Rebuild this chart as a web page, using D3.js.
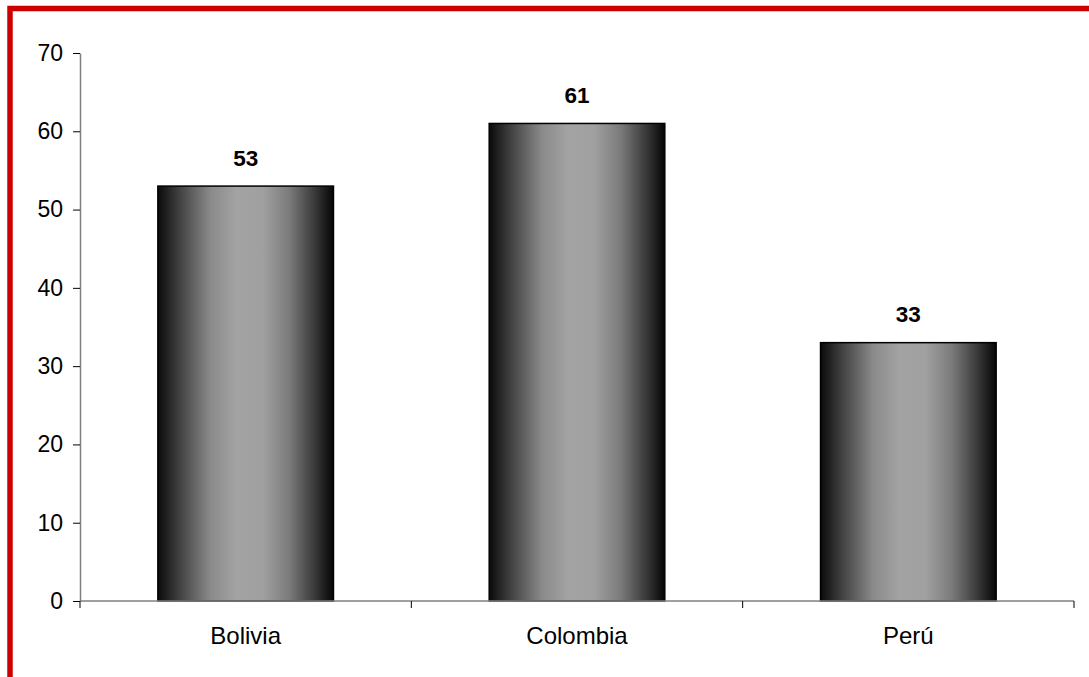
<!DOCTYPE html>
<html><head><meta charset="utf-8">
<script src="https://cdn.jsdelivr.net/npm/d3@7"></script>
<style>body{margin:0;background:#fff}svg{display:block}text{font-family:"Liberation Sans",Arial,sans-serif}</style>
</head><body><svg id="c" width="1089" height="677"></svg>
<script>
const categories = ["Bolivia","Colombia","Perú"];
const values = [53,61,33];
const yTicks = [0,10,20,30,40,50,60,70];

const svg = d3.select("#c");
const W=1089,H=677;
const m={l:80,r:1074,t:53,b:601};

// red frame
svg.append("rect").attr("x",10).attr("y",8.5).attr("width",W+20).attr("height",H+20)
  .attr("fill","none").attr("stroke","#cc0000").attr("stroke-width",5.5);

const defs=svg.append("defs");
const g=defs.append("linearGradient").attr("id","bg").attr("x1","0%").attr("x2","100%").attr("y1","0%").attr("y2","0%");
[[0,"#0a0a0a"],[0.12,"#404040"],[0.3,"#8a8a8a"],[0.45,"#a3a3a3"],[0.6,"#a0a0a0"],[0.75,"#7a7a7a"],[0.9,"#363636"],[1,"#050505"]]
  .forEach(([o,c])=>g.append("stop").attr("offset",o).attr("stop-color",c));

const x=d3.scaleBand().domain(categories).range([m.l,m.r]).paddingInner(0.47).paddingOuter(0.235);
const xb=d3.scaleBand().domain(categories).range([m.l,m.r]);
const y=d3.scaleLinear().domain([0,70]).range([m.b,m.t]);

svg.selectAll(".bar").data(values).join("rect")
  .attr("x",(d,i)=>x(categories[i])).attr("width",x.bandwidth())
  .attr("y",d=>y(d)).attr("height",d=>y(0)-y(d))
  .attr("fill","url(#bg)").attr("stroke","#000").attr("stroke-width",1.5);

svg.selectAll(".lab").data(values).join("text")
  .attr("x",(d,i)=>x(categories[i])+x.bandwidth()/2).attr("y",d=>y(d)-20.5)
  .attr("text-anchor","middle").attr("font-size",22.5).attr("font-weight","bold").text(d=>d);

// y axis
const ya=svg.append("g").attr("transform",`translate(${m.l},0)`)
  .call(d3.axisLeft(y).tickValues(yTicks).tickSize(7).tickPadding(10).tickSizeOuter(0));
ya.select(".domain").attr("stroke","#808080").attr("stroke-width",1.5);
ya.selectAll(".tick line").attr("stroke","#000").attr("stroke-width",1);
ya.selectAll("text").attr("font-size",23).attr("fill","#000").attr("font-family","Liberation Sans, Arial, sans-serif");

// x axis
svg.append("line").attr("x1",m.l).attr("x2",m.r).attr("y1",y(0)).attr("y2",y(0)).attr("stroke","#808080").attr("stroke-width",1.5);
const bounds=categories.map(c=>xb(c)).concat([m.r]);
svg.selectAll(".xt").data(bounds).join("line").attr("x1",d=>d).attr("x2",d=>d)
  .attr("y1",y(0)).attr("y2",y(0)+7).attr("stroke","#000");
svg.selectAll(".xl").data(categories).join("text")
  .attr("x",d=>xb(d)+xb.bandwidth()/2).attr("y",643.5).attr("text-anchor","middle")
  .attr("font-size",24).text(d=>d);
</script></body></html>
